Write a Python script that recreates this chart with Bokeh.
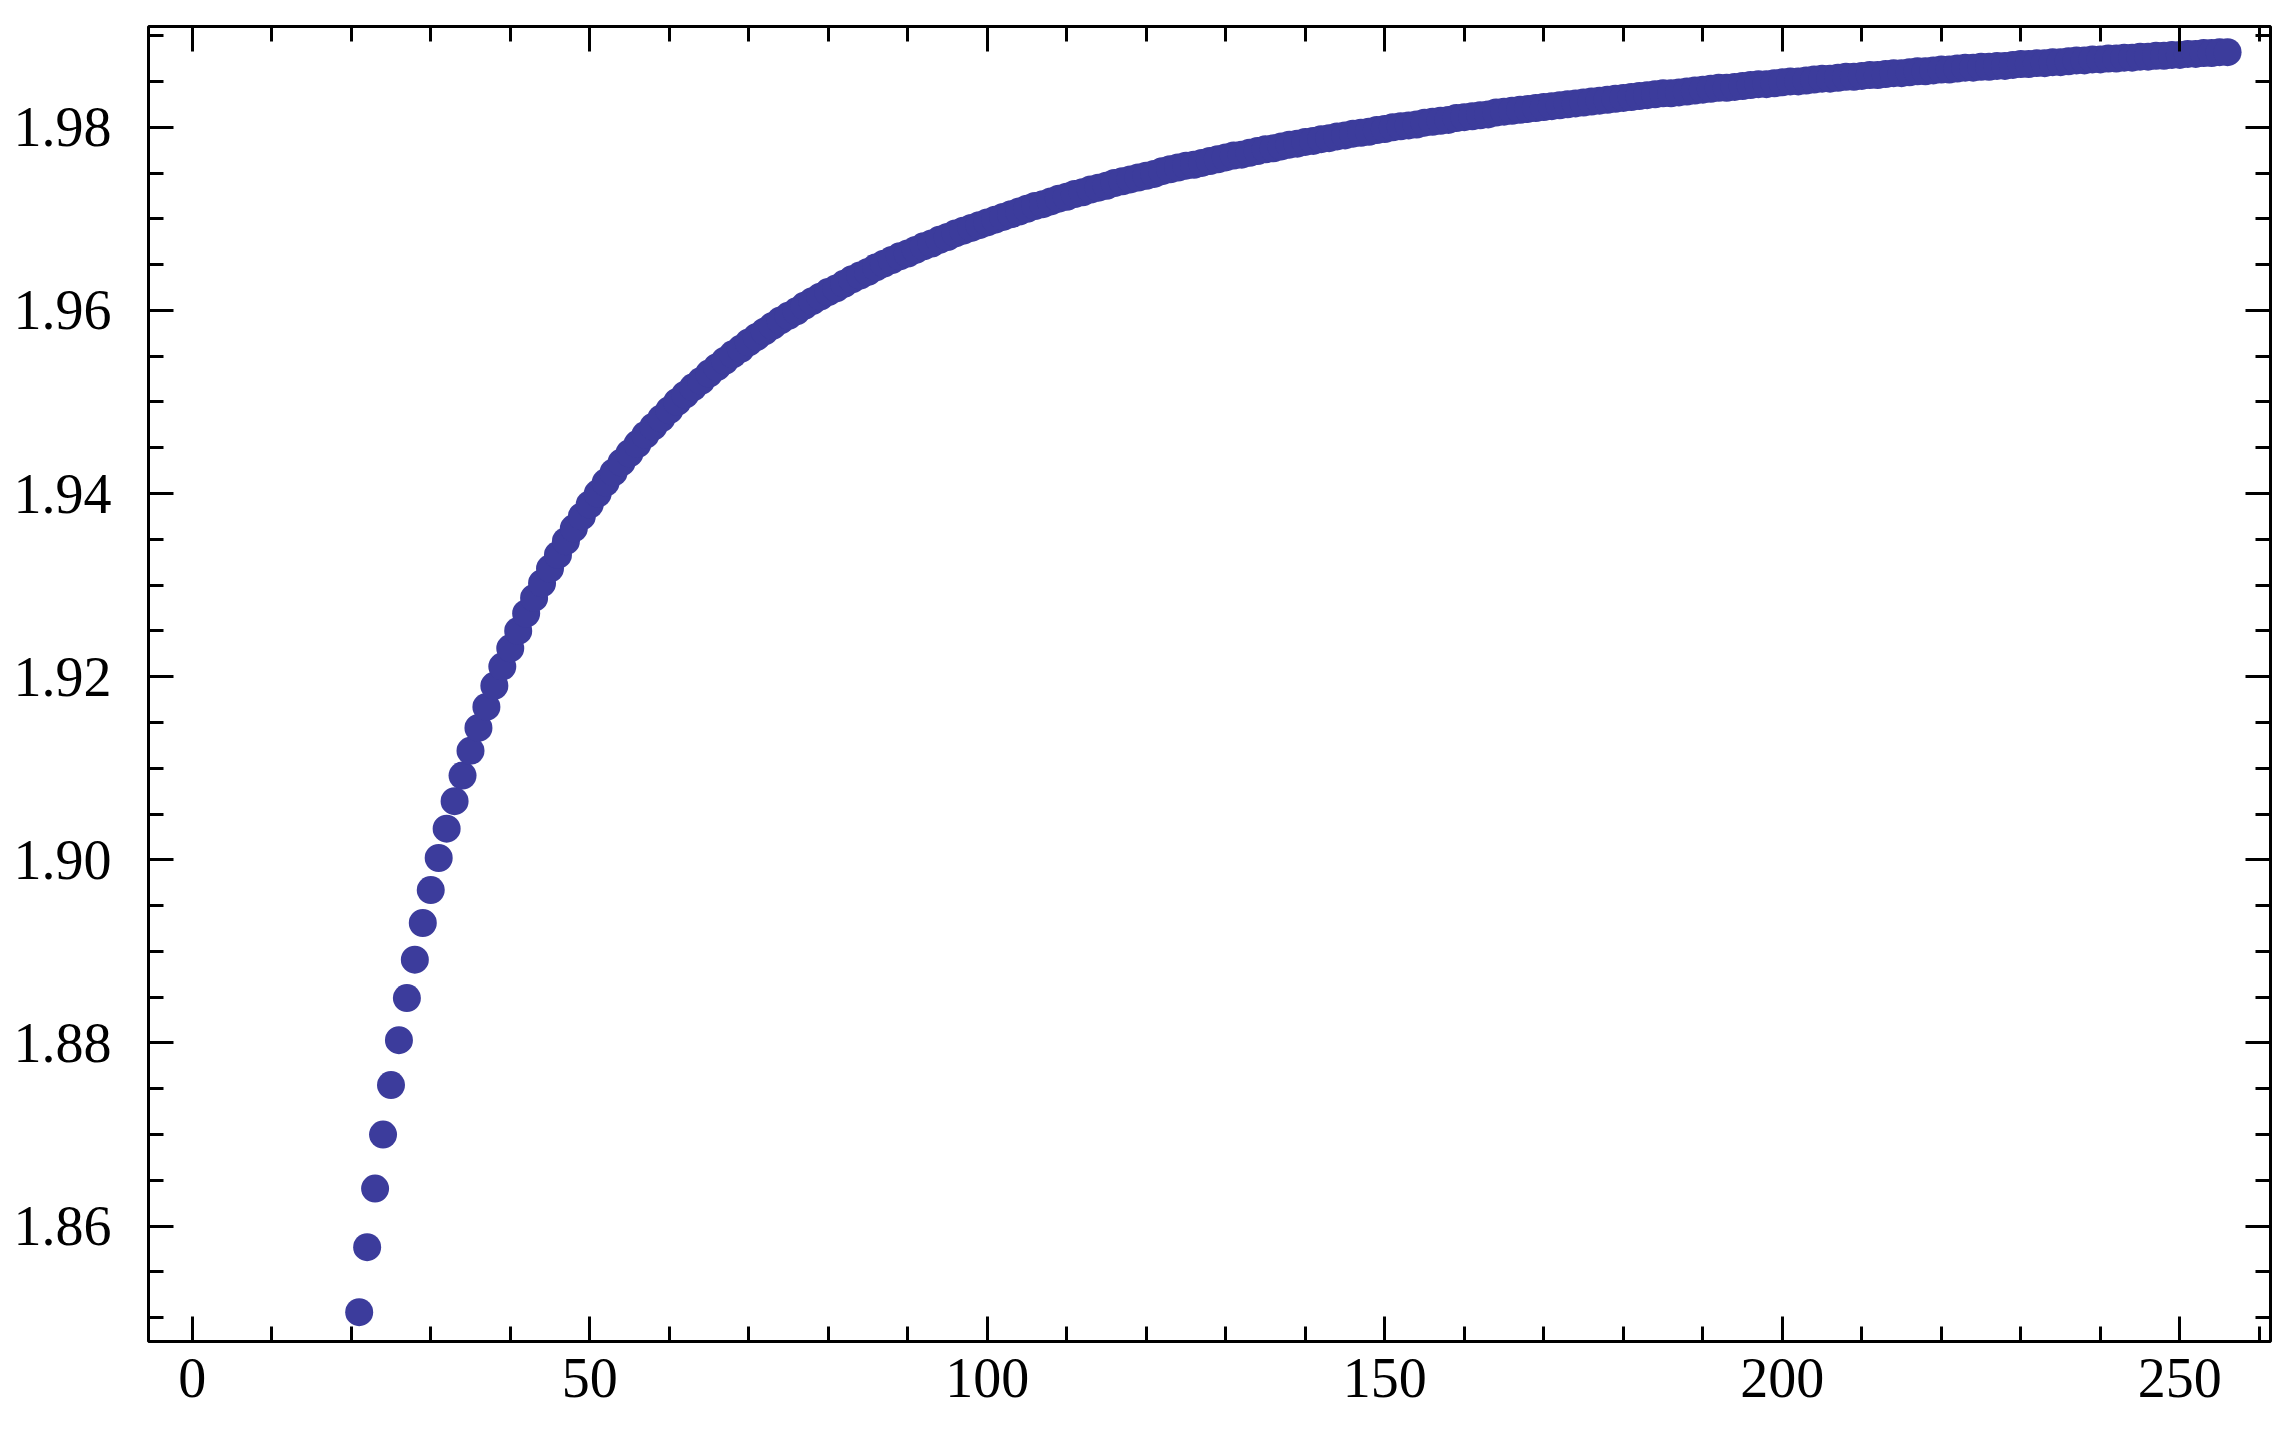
from bokeh.plotting import figure
from bokeh.models import Range1d, LinearAxis, FixedTicker
from bokeh.embed import file_html
from bokeh.resources import INLINE

n_values = list(range(21, 257))
y_values = [
    1.8506, 1.8577, 1.8641, 1.8700, 1.8754, 1.8803, 1.8849, 1.8891, 1.8931, 1.8967,
    1.9002, 1.9034, 1.9064, 1.9092, 1.9119, 1.9144, 1.9167, 1.9190, 1.9211, 1.9231,
    1.9250, 1.9269, 1.9286, 1.9302, 1.9318, 1.9333, 1.9348, 1.9362, 1.9375, 1.9388,
    1.9400, 1.9412, 1.9423, 1.9434, 1.9444, 1.9454, 1.9464, 1.9473, 1.9482, 1.9491,
    1.9500, 1.9508, 1.9516, 1.9523, 1.9531, 1.9538, 1.9545, 1.9552, 1.9558, 1.9565,
    1.9571, 1.9577, 1.9583, 1.9589, 1.9594, 1.9599, 1.9605, 1.9610, 1.9615, 1.9620,
    1.9624, 1.9629, 1.9634, 1.9638, 1.9642, 1.9647, 1.9651, 1.9655, 1.9659, 1.9662,
    1.9666, 1.9670, 1.9673, 1.9677, 1.9680, 1.9684, 1.9687, 1.9690, 1.9693, 1.9696,
    1.9699, 1.9702, 1.9705, 1.9708, 1.9711, 1.9714, 1.9716, 1.9719, 1.9722, 1.9724,
    1.9727, 1.9729, 1.9732, 1.9734, 1.9736, 1.9739, 1.9741, 1.9743, 1.9745, 1.9747,
    1.9749, 1.9752, 1.9754, 1.9756, 1.9758, 1.9759, 1.9761, 1.9763, 1.9765, 1.9767,
    1.9769, 1.9770, 1.9772, 1.9774, 1.9776, 1.9777, 1.9779, 1.9781, 1.9782, 1.9784,
    1.9785, 1.9787, 1.9788, 1.9790, 1.9791, 1.9793, 1.9794, 1.9795, 1.9797, 1.9798,
    1.9800, 1.9801, 1.9802, 1.9803, 1.9805, 1.9806, 1.9807, 1.9808, 1.9810, 1.9811,
    1.9812, 1.9813, 1.9814, 1.9816, 1.9817, 1.9818, 1.9819, 1.9820, 1.9821, 1.9822,
    1.9823, 1.9824, 1.9825, 1.9826, 1.9827, 1.9828, 1.9829, 1.9830, 1.9831, 1.9832,
    1.9833, 1.9834, 1.9835, 1.9836, 1.9837, 1.9837, 1.9838, 1.9839, 1.9840, 1.9841,
    1.9842, 1.9843, 1.9843, 1.9844, 1.9845, 1.9846, 1.9847, 1.9847, 1.9848, 1.9849,
    1.9850, 1.9850, 1.9851, 1.9852, 1.9853, 1.9853, 1.9854, 1.9855, 1.9855, 1.9856,
    1.9857, 1.9857, 1.9858, 1.9859, 1.9859, 1.9860, 1.9861, 1.9861, 1.9862, 1.9863,
    1.9863, 1.9864, 1.9865, 1.9865, 1.9866, 1.9866, 1.9867, 1.9867, 1.9868, 1.9869,
    1.9869, 1.9870, 1.9870, 1.9871, 1.9871, 1.9872, 1.9873, 1.9873, 1.9874, 1.9874,
    1.9875, 1.9875, 1.9876, 1.9876, 1.9877, 1.9877, 1.9878, 1.9878, 1.9879, 1.9879,
    1.9880, 1.9880, 1.9881, 1.9881, 1.9882, 1.9882,
]

x_ticks = [0, 50, 100, 150, 200, 250]
x_tick_labels = ["0", "50", "100", "150", "200", "250"]
x_minor = [0, 10, 20, 30, 40, 50, 60, 70, 80, 90, 100, 110, 120, 130, 140, 150,
           160, 170, 180, 190, 200, 210, 220, 230, 240, 250, 260]
y_ticks = [1.86, 1.88, 1.90, 1.92, 1.94, 1.96, 1.98]
y_tick_labels = ["1.86", "1.88", "1.90", "1.92", "1.94", "1.96", "1.98"]
y_minor = [1.850, 1.855, 1.860, 1.865, 1.870, 1.875, 1.880, 1.885, 1.890, 1.895,
           1.900, 1.905, 1.910, 1.915, 1.920, 1.925, 1.930, 1.935, 1.940, 1.945,
           1.950, 1.955, 1.960, 1.965, 1.970, 1.975, 1.980, 1.985, 1.990]

FONT = "Liberation Serif"

p = figure(width=2280, height=1428, output_backend="svg", toolbar_location=None,
           x_range=Range1d(-5.5, 261.4), y_range=Range1d(1.8474, 1.9910),
           x_axis_location=None, y_axis_location=None,
           min_border_left=148, min_border_right=10,
           min_border_top=26, min_border_bottom=87)
p.grid.visible = False
p.outline_line_color = "black"
p.outline_line_width = 3
p.background_fill_color = "white"
p.border_fill_color = "white"

p.scatter(n_values, y_values, size=28, color="#3c3c9c", line_color=None)


def frame_axis(ticks, minor, labels, show_labels, standoff):
    ax = LinearAxis(ticker=FixedTicker(ticks=ticks, minor_ticks=minor))
    ax.axis_line_color = None
    ax.major_tick_in = 25
    ax.major_tick_out = 0
    ax.minor_tick_in = 15
    ax.minor_tick_out = 0
    ax.major_tick_line_width = 3
    ax.minor_tick_line_width = 3
    ax.major_tick_line_color = "black"
    ax.minor_tick_line_color = "black"
    ax.major_label_text_font = FONT
    ax.major_label_text_color = "black"
    if show_labels:
        ax.major_label_overrides = dict(zip(ticks, labels))
        ax.major_label_text_font_size = "56px"
        ax.major_label_standoff = standoff
    else:
        # mirrored frame ticks only, no labels
        ax.major_label_overrides = {t: "" for t in ticks}
        ax.major_label_text_font_size = "10px"
        ax.major_label_standoff = 0
    return ax


p.add_layout(frame_axis(x_ticks, x_minor, x_tick_labels, True, 17), "below")
p.add_layout(frame_axis(x_ticks, x_minor, x_tick_labels, False, 0), "above")
p.add_layout(frame_axis(y_ticks, y_minor, y_tick_labels, True, 37), "left")
p.add_layout(frame_axis(y_ticks, y_minor, y_tick_labels, False, 0), "right")

open("out.html", "w").write(file_html(p, INLINE))
